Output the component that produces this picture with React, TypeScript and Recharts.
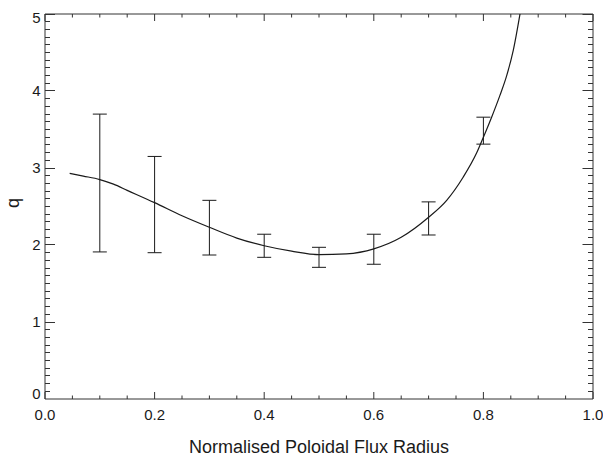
import React from "react";
import {
  ComposedChart,
  Line,
  Scatter,
  ErrorBar,
  XAxis,
  YAxis,
  ReferenceLine,
} from "recharts";

// fitted q profile
const profileRadius = [
  0.045, 0.07, 0.1, 0.125, 0.15, 0.2, 0.25, 0.3, 0.35, 0.4, 0.45, 0.5, 0.55,
  0.6, 0.65, 0.7, 0.733, 0.763, 0.788, 0.8, 0.815, 0.83, 0.8425, 0.8546,
  0.8668, 0.875,
];
const profileQ = [
  2.93, 2.895, 2.85, 2.79, 2.71, 2.55, 2.38, 2.23, 2.09, 1.99, 1.92, 1.875,
  1.885, 1.95, 2.1, 2.36, 2.58, 2.88, 3.2, 3.4, 3.66, 3.94, 4.2, 4.53, 5.0,
  5.35,
];

// measured points with error ranges
const measRadius = [0.1, 0.2, 0.3, 0.4, 0.5, 0.6, 0.7, 0.8];
const measLow = [1.91, 1.9, 1.87, 1.84, 1.71, 1.75, 2.13, 3.31];
const measHigh = [3.7, 3.15, 2.58, 2.14, 1.97, 2.14, 2.56, 3.66];

// axis ticks
const xMajorTicks = [0, 0.2, 0.4, 0.6, 0.8, 1.0];
const yMajorTicks = [0, 1, 2, 3, 4, 5];
const xMinorStep = 0.05;
const yMinorStep = 0.1;

const makeTicks = (max: number, step: number) => {
  const out: number[] = [];
  const n = Math.round(max / step);
  for (let i = 0; i <= n; i++) out.push(Math.round(i * step * 1000) / 1000);
  return out;
};
const xTicks = makeTicks(1, xMinorStep);
const yTicks = makeTicks(5, yMinorStep);

const near = (list: number[], v: number) => list.some((t) => Math.abs(t - v) < 1e-6);

const profileData = profileRadius.map((r, i) => ({ r, q: profileQ[i] }));
const measData = measRadius.map((r, i) => {
  const mid = (measLow[i] + measHigh[i]) / 2;
  return { r, q: mid, err: [mid - measLow[i], measHigh[i] - mid] };
});

// inward y tick marks on left and right frame (IDL style)
const yTickMarks = [
  ...yTicks.map((v) => ({ r: 0, q: v, side: "left", major: near(yMajorTicks, v) })),
  ...yTicks.map((v) => ({ r: 1, q: v, side: "right", major: near(yMajorTicks, v) })),
];

// x tick marks: short vertical bars centred just inside the bottom/top frame
// (lengths in q units; the plot is 385px tall for 5 units)
const xMajorLen = 7 / 77;
const xMinorLen = 3.5 / 77;
const xTickMarks = [
  ...xTicks.map((v) => {
    const half = (near(xMajorTicks, v) ? xMajorLen : xMinorLen) / 2;
    return { r: v, q: half, half };
  }),
  ...xTicks.map((v) => {
    const half = (near(xMajorTicks, v) ? xMajorLen : xMinorLen) / 2;
    return { r: v, q: 5 - half, half };
  }),
];

const AXIS = "#333333";
const INK = "#1a1a1a";
const FONT = "'Liberation Sans', Arial, Helvetica, sans-serif";

const snap = (v: number) => Math.round(v - 0.5) + 0.5;

const YTickMark = (props: any) => {
  const { cx, cy, payload } = props;
  const { side, major } = payload;
  const py = snap(cy);
  const d =
    side === "left"
      ? `M${cx},${py}L${cx + (major ? 10 : 5)},${py}`
      : `M${cx},${py}L${cx - (major ? 10.5 : 5)},${py}`;
  return <path d={d} stroke={AXIS} strokeWidth={1} fill="none" />;
};

const BottomLabel = (props: any) => {
  const { x, y, payload } = props;
  const v = payload.value;
  if (!near(xMajorTicks, v)) return <g />;
  return (
    <text x={x} y={y + 20.6} textAnchor="middle" fontSize={15} fill={INK} fontFamily={FONT}>
      {v.toFixed(1)}
    </text>
  );
};

const LeftLabel = (props: any) => {
  const { x, y, payload } = props;
  const v = payload.value;
  if (!near(yMajorTicks, v)) return <g />;
  // IDL nudges the end labels inside the frame
  let shift = 0;
  if (v === 5) shift = 4;
  if (v === 0) shift = -5.7;
  return (
    <text x={x - 4.3} y={y + shift + 5.4} textAnchor="end" fontSize={15} fill={INK} fontFamily={FONT}>
      {v}
    </text>
  );
};

export default function App() {
  return (
    <div style={{ position: "absolute", left: 0, top: 0, width: 603, height: 456, background: "#fff", fontFamily: FONT }}>
      <ComposedChart width={603} height={456} margin={{ top: 14, right: 10, bottom: 0, left: 0 }}>
        <XAxis
          dataKey="r"
          type="number"
          domain={[0, 1]}
          ticks={xTicks}
          interval={0}
          allowDataOverflow
          height={57}
          tickSize={0}
          tickMargin={0}
          tickLine={false}
          tick={BottomLabel}
          axisLine={{ stroke: AXIS }}
          label={{ value: "Normalised Poloidal Flux Radius", position: "insideBottom", offset: 3, fontSize: 18, fill: INK, fontFamily: FONT }}
        />
        <YAxis
          type="number"
          domain={[0, 5]}
          ticks={yTicks}
          interval={0}
          allowDataOverflow
          width={45}
          tickSize={0}
          tickMargin={0}
          tickLine={false}
          tick={LeftLabel}
          axisLine={{ stroke: AXIS }}
        />
        {/* top and right frame */}
        <ReferenceLine y={5} stroke={AXIS} strokeWidth={1} />
        <ReferenceLine x={1} stroke={AXIS} strokeWidth={1} />
        <text x={19} y={203} transform="rotate(-90 19 203)" textAnchor="middle" fontSize={18} fill={INK} fontFamily={FONT}>
          q
        </text>
        <Scatter data={yTickMarks} dataKey="q" shape={YTickMark} isAnimationActive={false} />
        <Scatter data={xTickMarks} dataKey="q" shape={() => <g />} isAnimationActive={false}>
          <ErrorBar dataKey="half" direction="y" width={0} stroke={AXIS} strokeWidth={1} isAnimationActive={false} />
        </Scatter>
        <Line
          data={profileData}
          dataKey="q"
          type="monotone"
          stroke={INK}
          strokeWidth={1.2}
          dot={false}
          isAnimationActive={false}
        />
        <Scatter data={measData} dataKey="q" shape={() => <g />} isAnimationActive={false}>
          <ErrorBar dataKey="err" direction="y" width={7} stroke={INK} strokeWidth={1} isAnimationActive={false} />
        </Scatter>
      </ComposedChart>
    </div>
  );
}
